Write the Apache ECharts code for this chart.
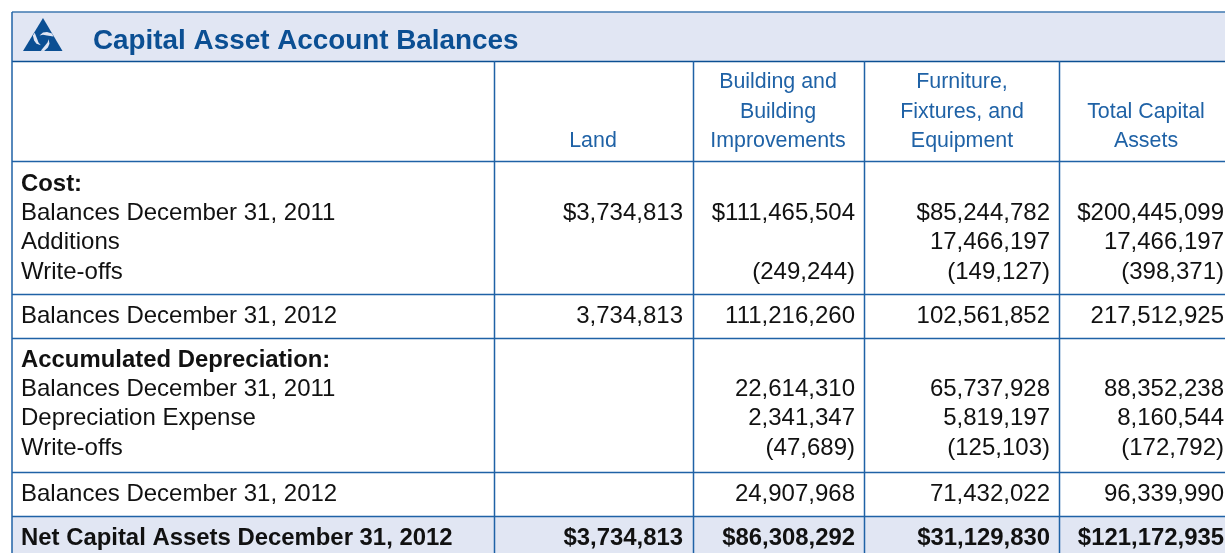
<!DOCTYPE html>
<html>
<head>
<meta charset="utf-8">
<style>html,body{margin:0;padding:0;background:#fff}#chart{width:1225px;height:553px}</style>
<script src="https://cdn.jsdelivr.net/npm/echarts@6/dist/echarts.min.js"></script>
</head>
<body>
<div id="chart"></div>
<script>
var title = 'Capital Asset Account Balances';
var landHeader = ['Land'];
var buildingHeader = ['Building and', 'Building', 'Improvements'];
var furnitureHeader = ['Furniture,', 'Fixtures, and', 'Equipment'];
var totalHeader = ['Total Capital', 'Assets'];

var rowLabels = ['Cost:', 'Balances December 31, 2011', 'Additions', 'Write-offs', 'Balances December 31, 2012',
    'Accumulated Depreciation:', 'Balances December 31, 2011', 'Depreciation Expense', 'Write-offs',
    'Balances December 31, 2012', 'Net Capital Assets December 31, 2012'];
var land = ['', '$3,734,813', '', '', '3,734,813', '', '', '', '', '', '$3,734,813'];
var building = ['', '$111,465,504', '', '(249,244)', '111,216,260', '', '22,614,310', '2,341,347', '(47,689)', '24,907,968', '$86,308,292'];
var furniture = ['', '$85,244,782', '17,466,197', '(149,127)', '102,561,852', '', '65,737,928', '5,819,197', '(125,103)', '71,432,022', '$31,129,830'];
var total = ['', '$200,445,099', '17,466,197', '(398,371)', '217,512,925', '', '88,352,238', '8,160,544', '(172,792)', '96,339,990', '$121,172,935'];
var boldRows = [0, 5, 10];

// layout
var rowY = [184, 213, 242, 272, 316, 360, 389, 418, 448, 494, 538];
var colRight = [683, 855, 1050, 1224];
var colCenter = [593, 778, 962, 1146];
var headerY = [82, 112, 141];
var vLines = [494, 693, 864, 1059];
var hLines = [161, 294, 338, 472, 516];
var blue = '#1f62a6', dark = '#0b4f93';
var font = '"Liberation Sans", Arial, sans-serif';

var g = [];
g.push({type: 'rect', shape: {x: 12, y: 12, width: 1213, height: 49}, style: {fill: '#e1e6f3'}});
g.push({type: 'rect', shape: {x: 12, y: 516, width: 1213, height: 37}, style: {fill: '#e1e6f3'}});

function hline(y, x1, color, w) {
    g.push({type: 'line', z: 5, shape: {x1: x1, y1: y, x2: 1225, y2: y}, style: {stroke: color, lineWidth: w}});
}
function vline(x, y1, y2) {
    g.push({type: 'line', z: 5, shape: {x1: x, y1: y1, x2: x, y2: y2}, style: {stroke: blue, lineWidth: 1.5}});
}
hline(12, 12, '#3f78b0', 1.5);
hline(61.5, 12, dark, 1.5);
hLines.forEach(function (y) { hline(y + 0.5, 12, blue, 1.5); });
vline(12, 12, 553);
vLines.forEach(function (x) { vline(x + 0.5, 61, 553); });

function text(str, x, y, align, size, weight, color) {
    if (!str) return;
    g.push({type: 'text', z: 6, x: x, y: y, style: {
        text: str, align: align, verticalAlign: 'middle', fill: color,
        font: weight + ' ' + size + 'px ' + font
    }});
}

// logo: triangle with one swirl blade turned three times round the centre
g.push({type: 'polygon', z: 6, shape: {points: [[43, 18], [62.5, 51], [23, 51]]}, style: {fill: dark}});
var blade = [[52, 33.5], [47, 32], [43, 32.5], [39.5, 35.5], [43, 34.8], [47, 35.5], [53.5, 36.5]];
[0, 120, 240].forEach(function (deg) {
    var a = deg * Math.PI / 180;
    var pts = blade.map(function (p) {
        var dx = p[0] - 43, dy = p[1] - 40;
        return [43 + dx * Math.cos(a) - dy * Math.sin(a), 40 + dx * Math.sin(a) + dy * Math.cos(a)];
    });
    g.push({type: 'polygon', z: 7, shape: {points: pts}, style: {fill: '#e1e6f3'}});
});

text(title, 93, 41.5, 'left', 27.85, 'bold', dark);

function header(lines, cx) {
    lines.forEach(function (s, i) {
        text(s, cx, headerY[i + 3 - lines.length], 'center', 21.4, 'normal', blue);
    });
}
header(landHeader, colCenter[0]);
header(buildingHeader, colCenter[1]);
header(furnitureHeader, colCenter[2]);
header(totalHeader, colCenter[3]);

rowLabels.forEach(function (s, i) {
    var bold = boldRows.indexOf(i) >= 0;
    var size = bold ? 23.9 : 24;
    text(s, 21, rowY[i], 'left', size, bold ? 'bold' : 'normal', '#111');
    [land, building, furniture, total].forEach(function (col, c) {
        text(col[i], colRight[c], rowY[i], 'right', size, bold ? 'bold' : 'normal', '#111');
    });
});

var chart = echarts.init(document.getElementById('chart'));
chart.setOption({animation: false, backgroundColor: '#fff', graphic: {elements: g}});
</script>
</body>
</html>
